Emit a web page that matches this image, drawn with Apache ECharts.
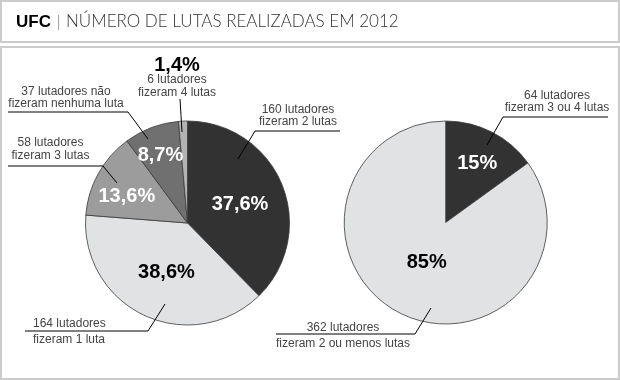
<!DOCTYPE html>
<html><head><meta charset="utf-8">
<script src="https://cdn.jsdelivr.net/npm/echarts@6/dist/echarts.min.js"></script>
<style>html,body{margin:0;padding:0;background:#fff}#c{width:620px;height:380px}</style>
</head><body><div id="c"></div>
<script>
// ---------- DATA ----------
const titleBrand = 'UFC';
const titleText = 'NÚMERO DE LUTAS REALIZADAS EM 2012';

// Left pie (number of fights per fighter)
const leftCategories = ['2 lutas', '1 luta', '3 lutas', 'nenhuma luta', '4 lutas'];
const leftValues = [160, 164, 58, 37, 6];
const leftPctLabels = ['37,6%', '38,6%', '13,6%', '8,7%', '1,4%'];
const leftCallouts = [
  '160 lutadores\nfizeram 2 lutas',
  '164 lutadores\nfizeram 1 luta',
  '58 lutadores\nfizeram 3 lutas',
  '37 lutadores não\nfizeram nenhuma luta',
  '6 lutadores\nfizeram 4 lutas'
];

// Right pie
const rightCategories = ['3 ou 4 lutas', '2 ou menos lutas'];
const rightValues = [64, 362];
const rightPctLabels = ['15%', '85%'];
const rightCallouts = [
  '64 lutadores\nfizeram 3 ou 4 lutas',
  '362 lutadores\nfizeram 2 ou menos lutas'
];

// ---------- STYLE / LAYOUT ----------
const leftColors = ['#323232', '#e1e2e4', '#9c9c9c', '#707070', '#b2b2b2'];
const leftPctColors = ['#ffffff', '#000000', '#ffffff', '#ffffff', '#000000'];
const rightColors = ['#323232', '#e1e2e4'];
const rightPctColors = ['#ffffff', '#000000'];

const leftCenter = [187.5, 223], leftRadius = 102;
const rightCenter = [445.7, 222.5], rightRadius = 101.5;

// percentage label: distance from center and small angular tweak (deg)
const leftPctDist = [55.7, 53.9, 66.2, 72.4, 0];
const leftPctRot = [2.7, -2, -5.4, -1.2, 0];
const rightPctDist = [67.1, 44.5];
const rightPctRot = [1, -1.7];

// callout geometry, offsets relative to pie center
const leftCalloutLayout = [
  {start: [50.5, -64], elbow: [67.5, -92], end: [152.5, -92], text: [110.5, -95], align: 'center', vAlign: 'bottom', lh: 12},
  {start: [-22.5, 81], elbow: [-39.5, 108], end: [-162.5, 108], text: [-154.5, 108.5], align: 'left', vAlign: 'middle', lh: 15.5},
  {start: [-70.5, -40], elbow: [-84.5, -57], end: [-179.5, -57], text: [-137, -60.5], align: 'center', vAlign: 'bottom', lh: 13},
  {start: [-39.5, -84], elbow: [-59.5, -111], end: [-179.5, -111], text: [-121.5, -113.5], align: 'center', vAlign: 'bottom', lh: 12},
  {start: [-5.5, -91], elbow: [-6.5, -107.5], end: [-7.5, -124], text: [-10.5, -124], align: 'center', vAlign: 'bottom', lh: 13, big: true}
];
const rightCalloutLayout = [
  {start: [41.3, -77.5], elbow: [57.3, -105.5], end: [162.3, -105.5], text: [111.3, -109], align: 'center', vAlign: 'bottom', lh: 12},
  {start: [-14.7, 85.5], elbow: [-30.7, 111.5], end: [-169.7, 111.5], text: [-102.7, 113.5], align: 'center', vAlign: 'middle', lh: 16}
];

const labelFont = '"Liberation Sans", Arial, sans-serif';

function pctLayout(center, dist, rot) {
  return function (p) {
    const r = p.labelRect;
    const cx = r.x + r.width / 2, cy = r.y + r.height / 2;
    const a = Math.atan2(cy - center[1], cx - center[0]) + rot[p.dataIndex] * Math.PI / 180;
    return {
      x: center[0] + Math.cos(a) * dist[p.dataIndex],
      y: center[1] + Math.sin(a) * dist[p.dataIndex],
      align: 'center', verticalAlign: 'middle'
    };
  };
}
function calloutLayout(center, layout) {
  return function (p) {
    const L = layout[p.dataIndex];
    const pt = d => [center[0] + d[0], center[1] + d[1]];
    return {
      x: center[0] + L.text[0], y: center[1] + L.text[1],
      align: L.align, verticalAlign: L.vAlign,
      labelLinePoints: [pt(L.start), pt(L.elbow), pt(L.end)]
    };
  };
}

function mainSeries(center, radius, cats, vals, colors, pctLabels, pctColors, dist, rot, hideIdx) {
  return {
    type: 'pie', center: center, radius: radius, startAngle: 90, clockwise: true,
    silent: true, avoidLabelOverlap: false, animation: false,
    itemStyle: {borderColor: '#3a3a3a', borderWidth: 0.8},
    emphasis: {disabled: true},
    label: {
      show: true, position: 'inside', fontFamily: labelFont, fontSize: 20, fontWeight: 'bold',
      formatter: p => pctLabels[p.dataIndex]
    },
    labelLine: {show: false},
    labelLayout: pctLayout(center, dist, rot),
    data: vals.map((v, i) => ({
      name: cats[i], value: v,
      itemStyle: {color: colors[i]},
      label: {color: pctColors[i], show: hideIdx.indexOf(i) < 0}
    }))
  };
}

function calloutSeries(center, radius, cats, vals, texts, layout, bigPct) {
  return {
    type: 'pie', center: center, radius: radius, startAngle: 90, clockwise: true,
    silent: true, avoidLabelOverlap: false, animation: false, z: 5,
    itemStyle: {color: 'rgba(0,0,0,0)', borderWidth: 0},
    emphasis: {disabled: true},
    label: {
      show: true, position: 'outside', fontFamily: labelFont, fontSize: 12, color: '#444444',
      formatter: p => {
        const L = layout[p.dataIndex];
        if (L.big) {
          const lines = texts[p.dataIndex].split('\n');
          return '{p|' + bigPct[p.dataIndex] + '}\n' + lines.map(s => '{t|' + s + '}').join('\n');
        }
        return texts[p.dataIndex];
      },
      rich: {
        p: {fontFamily: labelFont, fontSize: 20, fontWeight: 'bold', color: '#000', lineHeight: 16},
        t: {fontFamily: labelFont, fontSize: 12, color: '#444444', lineHeight: 13}
      }
    },
    labelLine: {show: true, length: 10, length2: 10, smooth: false, lineStyle: {color: '#000', width: 1}},
    labelLayout: calloutLayout(center, layout),
    data: vals.map((v, i) => ({
      name: cats[i], value: v,
      label: {lineHeight: layout[i].lh}
    }))
  };
}

const chart = echarts.init(document.getElementById('c'), null, {renderer: 'canvas'});
chart.setOption({
  backgroundColor: '#ffffff',
  animation: false,
  graphic: [
    {type: 'rect', shape: {x: 1, y: 1, width: 618, height: 41}, style: {fill: 'none', stroke: '#cccccc', lineWidth: 2}, silent: true},
    {type: 'rect', shape: {x: 1, y: 47, width: 618, height: 332}, style: {fill: 'none', stroke: '#cccccc', lineWidth: 2}, silent: true},
    {type: 'text', x: 16, y: 22, style: {text: titleBrand, fill: '#000', font: 'bold 17px "Liberation Sans", Arial, sans-serif', verticalAlign: 'middle'}, silent: true},
    {type: 'text', x: 57, y: 22, style: {text: '|', fill: '#555', font: '300 15px Lato, "Liberation Sans", sans-serif', verticalAlign: 'middle'}, silent: true},
    {type: 'text', x: 66, y: 22, style: {text: titleText, fill: '#333', font: '300 17px Lato, "Liberation Sans", sans-serif', verticalAlign: 'middle'}, silent: true}
  ],
  series: [
    mainSeries(leftCenter, leftRadius, leftCategories, leftValues, leftColors, leftPctLabels, leftPctColors, leftPctDist, leftPctRot, [4]),
    mainSeries(rightCenter, rightRadius, rightCategories, rightValues, rightColors, rightPctLabels, rightPctColors, rightPctDist, rightPctRot, []),
    calloutSeries(leftCenter, leftRadius, leftCategories, leftValues, leftCallouts, leftCalloutLayout, leftPctLabels),
    calloutSeries(rightCenter, rightRadius, rightCategories, rightValues, rightCallouts, rightCalloutLayout, rightPctLabels)
  ]
});
</script>
</body></html>
